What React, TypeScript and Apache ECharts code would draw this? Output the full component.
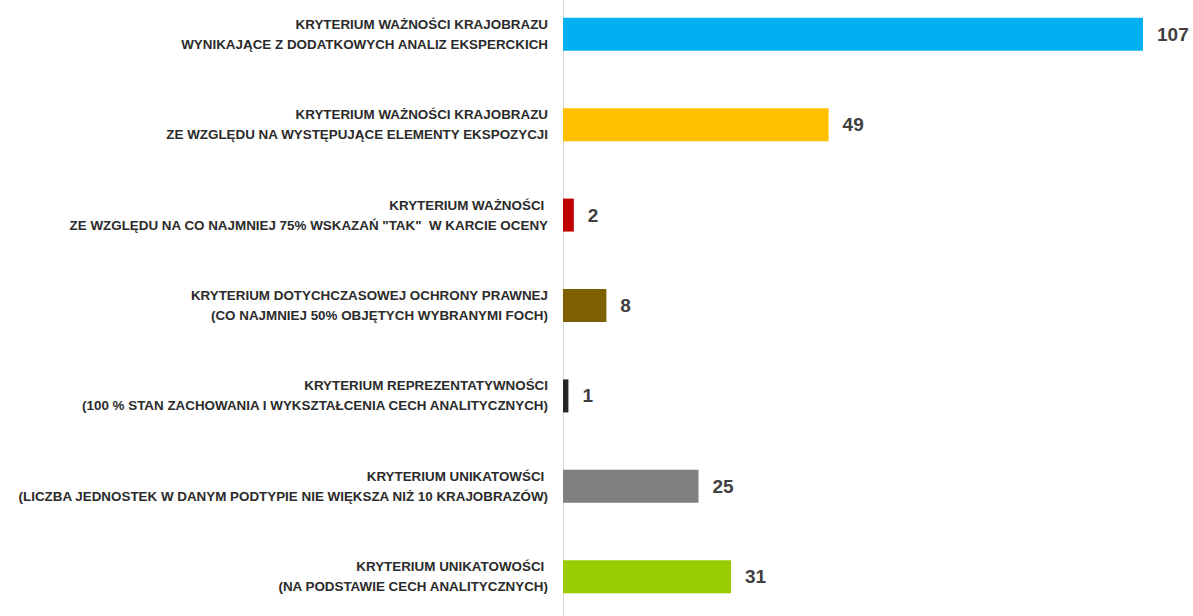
import React, { useEffect, useRef } from "react";
import * as echarts from "echarts";

const categories: string[] = [
  "KRYTERIUM WAŻNOŚCI KRAJOBRAZU\nWYNIKAJĄCE Z DODATKOWYCH ANALIZ EKSPERCKICH",
  "KRYTERIUM WAŻNOŚCI KRAJOBRAZU\nZE WZGLĘDU NA WYSTĘPUJĄCE ELEMENTY EKSPOZYCJI",
  "KRYTERIUM WAŻNOŚCI \nZE WZGLĘDU NA CO NAJMNIEJ 75% WSKAZAŃ \"TAK\"  W KARCIE OCENY",
  "KRYTERIUM DOTYCHCZASOWEJ OCHRONY PRAWNEJ\n(CO NAJMNIEJ 50% OBJĘTYCH WYBRANYMI FOCH)",
  "KRYTERIUM REPREZENTATYWNOŚCI\n(100 % STAN ZACHOWANIA I WYKSZTAŁCENIA CECH ANALITYCZNYCH)",
  "KRYTERIUM UNIKATOWŚCI \n(LICZBA JEDNOSTEK W DANYM PODTYPIE NIE WIĘKSZA NIŻ 10 KRAJOBRAZÓW)",
  "KRYTERIUM UNIKATOWOŚCI \n(NA PODSTAWIE CECH ANALITYCZNYCH)",
];

const values: number[] = [107, 49, 2, 8, 1, 25, 31];

const barColors: string[] = [
  "#00B0F0",
  "#FFC000",
  "#C00000",
  "#7F6000",
  "#262626",
  "#808080",
  "#99CC00",
];

export default function App() {
  const ref = useRef<HTMLDivElement>(null);

  useEffect(() => {
    if (!ref.current) return;
    const chart = echarts.init(ref.current, undefined, { renderer: "svg" });
    chart.setOption({
      animation: false,
      backgroundColor: "#ffffff",
      grid: {
        left: 563,
        right: 50,
        top: 0,
        bottom: 0,
        containLabel: false,
      },
      xAxis: {
        type: "value",
        min: 0,
        max: 107,
        show: false,
      },
      yAxis: {
        type: "category",
        inverse: true,
        data: categories,
        axisLine: { show: true, lineStyle: { color: "#d9d9d9", width: 1 } },
        axisTick: { show: false },
        axisLabel: {
          margin: 15,
          color: "#2b2b2b",
          fontFamily: "Liberation Sans",
          fontWeight: "bold",
          fontSize: 13.4,
          lineHeight: 20,
          align: "right",
          padding: [3, 0, 0, 0],
        },
      },
      series: [
        {
          type: "bar",
          data: values.map((v, i) => ({ value: v, itemStyle: { color: barColors[i] } })),
          barWidth: 33,
          label: {
            show: true,
            position: "right",
            distance: 14,
            color: "#404040",
            fontFamily: "Liberation Sans",
            fontWeight: "bold",
            fontSize: 19,
          },
        },
      ],
    });
    return () => chart.dispose();
  }, []);

  return (
    <div
      ref={ref}
      style={{ position: "fixed", left: 0, top: -10.7, width: 1193, height: 633.3 }}
    />
  );
}
